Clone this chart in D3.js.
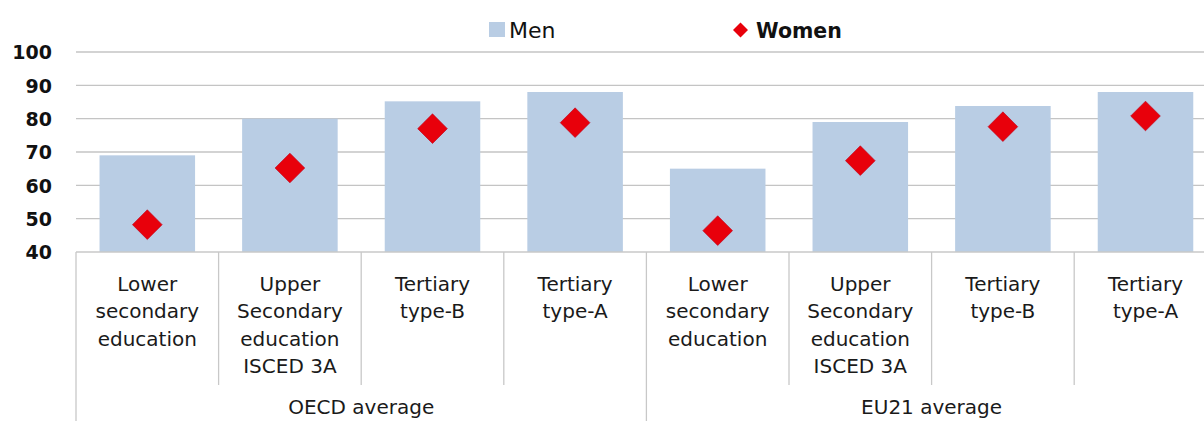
<!DOCTYPE html>
<html><head><meta charset="utf-8">
<script src="https://cdn.jsdelivr.net/npm/d3@7"></script>
<style>html,body{margin:0;padding:0;background:#fff;overflow:hidden}</style>
</head><body>
<svg id="c" width="1204" height="421"></svg>
<script>
const groups = ["OECD average", "EU21 average"];
const categories = [
  ["Lower","secondary","education"],
  ["Upper","Secondary","education","ISCED 3A"],
  ["Tertiary","type-B"],
  ["Tertiary","type-A"]
];
const men   = [69, 80, 85.2, 88, 65, 79, 83.8, 88];
const women = [48.2, 65.2, 77, 78.8, 46.4, 67.4, 77.6, 80.8];
const yTicks = [40, 50, 60, 70, 80, 90, 100];

(function(){
const svg = d3.select("#c");
const left = 76, bandW = 142.6, plotTop = 52, plotBottom = 252;
const items = [];
groups.forEach((g, gi) => categories.forEach((c, ci) => items.push({g, gi, c, i: gi*categories.length+ci})));

const x = d3.scaleBand().domain(items.map(d => d.i)).range([left, left + bandW*items.length]).paddingInner(0.33).paddingOuter(0.165);
const y = d3.scaleLinear().domain([40, 100]).range([plotBottom, plotTop]);

// gridlines
svg.append("g").selectAll("line").data(yTicks.slice(1)).join("line")
  .attr("x1", left).attr("x2", 1204).attr("y1", d => y(d)).attr("y2", d => y(d))
  .attr("stroke", "#c4c4c4").attr("stroke-width", 1.3);

// y axis labels
const yAxis = d3.axisLeft(y).tickValues(yTicks).tickSize(0).tickPadding(0);
const ya = svg.append("g").attr("transform", "translate(52,0)").call(yAxis);
ya.select(".domain").remove();
ya.selectAll("text").attr("font-family", "DejaVu Sans").attr("font-weight", "bold")
  .attr("font-size", 19).attr("fill", "#111").attr("dy", "0.36em");

// bars
svg.append("g").selectAll("rect").data(items).join("rect")
  .attr("x", d => x(d.i)).attr("width", x.bandwidth())
  .attr("y", d => y(men[d.i])).attr("height", d => y(40) - y(men[d.i]))
  .attr("fill", "#b9cde4");

// diamonds
const dsym = d3.symbol().type(d3.symbolSquare).size(440);
svg.append("g").selectAll("path").data(items).join("path")
  .attr("d", dsym)
  .attr("transform", d => `translate(${x(d.i)+x.bandwidth()/2},${y(women[d.i])}) rotate(45)`)
  .attr("fill", "#e8000b").attr("stroke", "#c0001a").attr("stroke-width", 0.6);

// axis line + category dividers
const axisCol = "#c8c8c8";
svg.append("line").attr("x1", left).attr("x2", 1204).attr("y1", plotBottom).attr("y2", plotBottom)
  .attr("stroke", axisCol).attr("stroke-width", 1.3);
svg.append("g").selectAll("line").data(d3.range(items.length + 1)).join("line")
  .attr("x1", i => left + i*bandW).attr("x2", i => left + i*bandW)
  .attr("y1", plotBottom).attr("y2", i => i % categories.length === 0 ? 421 : 385)
  .attr("stroke", axisCol).attr("stroke-width", 1.3);

// category labels
const lab = svg.append("g").attr("font-family", "DejaVu Sans").attr("font-size", 20).attr("fill", "#1a1a1a").attr("text-anchor", "middle");
items.forEach(d => {
  const cx = left + d.i*bandW + bandW/2;
  const t = lab.append("text").attr("x", cx).attr("y", 291);
  d.c.forEach((line, li) => t.append("tspan").attr("x", cx).attr("dy", li ? 27.4 : 0).text(line));
});
// group labels
svg.append("g").selectAll("text").data(groups).join("text")
  .attr("x", (d, gi) => left + (gi*categories.length + categories.length/2)*bandW)
  .attr("y", 414).attr("text-anchor", "middle")
  .attr("font-family", "DejaVu Sans").attr("font-size", 20).attr("fill", "#1a1a1a").text(d => d);

// legend
const lg = svg.append("g");
lg.append("rect").attr("x", 489).attr("y", 22).attr("width", 16).attr("height", 15).attr("fill", "#b9cde4");
lg.append("text").attr("x", 509).attr("y", 38).attr("font-family", "DejaVu Sans").attr("font-size", 22).attr("fill", "#111").text("Men");
lg.append("path").attr("d", d3.symbol().type(d3.symbolSquare).size(112)()).attr("transform", "translate(740.5,30) rotate(45)").attr("fill", "#e8000b");
lg.append("text").attr("x", 756).attr("y", 38).attr("font-family", "DejaVu Sans").attr("font-weight", "bold").attr("font-size", 20.5).attr("fill", "#111").text("Women");
})();
</script>
</body></html>
